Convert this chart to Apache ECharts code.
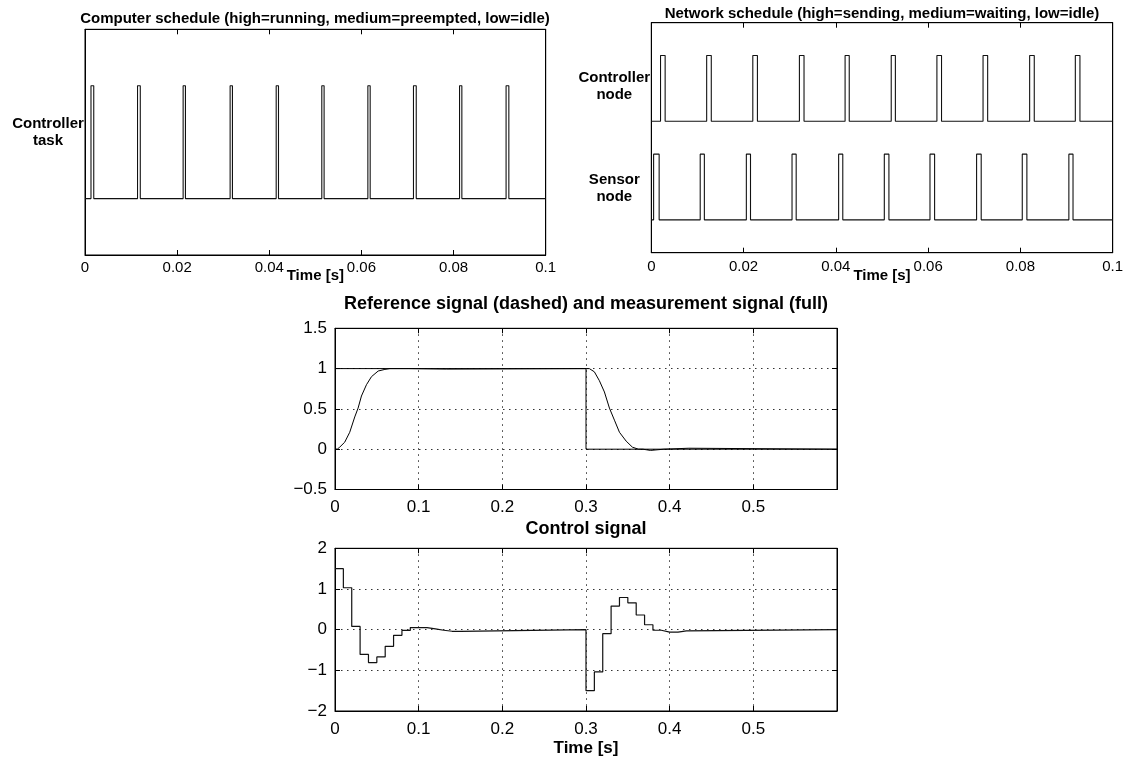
<!DOCTYPE html>
<html>
<head>
<meta charset="utf-8">
<script src="https://cdn.jsdelivr.net/npm/echarts@6/dist/echarts.min.js"></script>
<style>
  html, body { margin: 0; padding: 0; background: #fff; }
  #chart { width: 1127px; height: 764px; }
</style>
</head>
<body>
<div id="chart"></div>
<script>
// computer schedule: controller task running intervals [s]
const cpuStart = [0.0013, 0.0114, 0.0213, 0.0315, 0.0415, 0.0514, 0.0614, 0.0713, 0.0813, 0.0914];
const cpuEnd   = [0.0019, 0.0120, 0.0218, 0.0320, 0.0420, 0.0519, 0.0619, 0.0719, 0.0818, 0.0920];
// network schedule: sending intervals [s]
const ctrlNodeStart = [0.0020, 0.0120, 0.0220, 0.0321, 0.0420, 0.0520, 0.0619, 0.0719, 0.0820, 0.0919];
const ctrlNodeEnd   = [0.0030, 0.0130, 0.0230, 0.0331, 0.0429, 0.0529, 0.0629, 0.0729, 0.0830, 0.0929];
const sensorStart   = [0.0005, 0.0106, 0.0206, 0.0305, 0.0406, 0.0505, 0.0604, 0.0705, 0.0804, 0.0905];
const sensorEnd     = [0.0017, 0.0115, 0.0215, 0.0314, 0.0415, 0.0515, 0.0614, 0.0715, 0.0814, 0.0914];

// reference and measurement
const refT = [0, 0.3, 0.3, 0.6];
const refY = [1, 1, 0, 0];
const measT = [0, 0.003, 0.0056, 0.0116, 0.0176, 0.0236, 0.0276, 0.0316, 0.0376, 0.0436, 0.0516, 0.0596, 0.0656,
  0.088, 0.089, 0.133, 0.134, 0.3, 0.304, 0.310, 0.316, 0.322, 0.328, 0.334, 0.340, 0.348, 0.3555, 0.3626,
  0.368, 0.369, 0.377, 0.378, 0.393, 0.394, 0.423, 0.424, 0.6];
const measY = [0, 0.003, 0.025, 0.087, 0.21, 0.40, 0.51, 0.66, 0.80, 0.90, 0.97, 0.99, 1.0,
  1.0, 0.994, 0.994, 1.0, 1.0, 1.0, 0.96, 0.85, 0.71, 0.51, 0.36, 0.21, 0.10, 0.025, 0.0,
  0.0, -0.015, -0.015, 0, 0, 0.012, 0.012, 0, 0];

// control signal (zero order hold)
const ctrlT = [0, 0.01, 0.02, 0.03, 0.04, 0.05, 0.06, 0.07, 0.08, 0.09, 0.10, 0.11, 0.12, 0.13, 0.14, 0.15,
  0.30, 0.31, 0.32, 0.33, 0.34, 0.35, 0.36, 0.37, 0.38, 0.39, 0.40, 0.41, 0.42, 0.6];
const ctrlU = [1.5, 1.03, 0.08, -0.61, -0.81, -0.67, -0.41, -0.14, -0.02, 0.05, 0.05, 0.02, -0.015, -0.04, -0.04, 0,
  -1.5, -1.04, -0.1, 0.58, 0.79, 0.66, 0.36, 0.12, -0.015, -0.06, -0.06, -0.03, 0, 0];

const FONT = 'Liberation Sans, Arial, sans-serif';

function pulses(starts, ends, low, high, tEnd) {
  const pts = [[0, low]];
  for (let i = 0; i < starts.length; i++) {
    pts.push([starts[i], low], [starts[i], high], [ends[i], high], [ends[i], low]);
  }
  pts.push([tEnd, low]);
  return pts;
}
function zip(a, b) { return a.map((v, i) => [v, b[i]]); }
function num(v) { return String(parseFloat(v.toFixed(3))).replace('-', '\u2212'); }

const grids = [
  { left: 85, top: 29.3, width: 460.7, height: 225.7 },
  { left: 651.3, top: 22.7, width: 461.4, height: 230 },
  { left: 335, top: 328.3, width: 502, height: 161.2 },
  { left: 335, top: 548.3, width: 502, height: 162.7 }
].map(g => Object.assign(g, { show: true, borderColor: '#000', borderWidth: 1, backgroundColor: '#fff' }));

const dotted = { show: true, lineStyle: { color: '#333', type: [1.5, 4.5], width: 1 } };

function xPair(gi, max, interval, fontSize, margin, nameGap, hideMax, grid) {
  const bottom = {
    type: 'value', gridIndex: gi, min: 0, max: max, interval: interval, position: 'bottom',
    axisLine: { show: true, onZero: false, lineStyle: { color: '#000' } },
    axisTick: { show: true, inside: true, length: 5, lineStyle: { color: '#000' } },
    axisLabel: { color: '#000', fontFamily: FONT, fontSize: fontSize, margin: margin, formatter: num, showMaxLabel: !hideMax },
    splitLine: grid ? dotted : { show: false }
  };
  if (nameGap !== null) {
    Object.assign(bottom, {
      name: 'Time [s]', nameLocation: 'middle', nameGap: nameGap, nameMoveOverlap: false,
      nameTextStyle: { color: '#000', fontFamily: FONT, fontWeight: 'bold', fontSize: fontSize }
    });
  }
  const top = {
    type: 'value', gridIndex: gi, min: 0, max: max, interval: interval, position: 'top',
    axisLine: { show: true, onZero: false, lineStyle: { color: '#000' } },
    axisTick: { show: true, inside: true, length: 5, lineStyle: { color: '#000' } },
    axisLabel: { show: false }, splitLine: { show: false }
  };
  return [bottom, top];
}

function yPair(gi, min, max, interval, opts) {
  const left = {
    type: 'value', gridIndex: gi, min: min, max: max, interval: interval, position: 'left',
    axisLine: { show: true, onZero: false, lineStyle: { color: '#000' } },
    axisTick: { show: opts.ticks, inside: true, length: 5, lineStyle: { color: '#000' } },
    axisLabel: opts.label,
    splitLine: opts.grid ? dotted : { show: false }
  };
  const right = {
    type: 'value', gridIndex: gi, min: min, max: max, interval: interval, position: 'right',
    axisLine: { show: true, onZero: false, lineStyle: { color: '#000' } },
    axisTick: { show: opts.ticks, inside: true, length: 5, lineStyle: { color: '#000' } },
    axisLabel: { show: false }, splitLine: { show: false }
  };
  return [left, right];
}

const nameLabel = (values, texts) => ({
  customValues: values,
  formatter: v => texts[values.findIndex(x => Math.abs(x - v) < 1e-6)] || '',
  color: '#000', fontFamily: FONT, fontWeight: 'bold', fontSize: 15,
  align: 'center', margin: 37, lineHeight: 17
});
const numLabel = { color: '#000', fontFamily: FONT, fontSize: 17, margin: 8, formatter: num };

const xAxis = [].concat(
  xPair(0, 0.1, 0.02, 15, 5.5, 13.5, false, false),
  xPair(1, 0.1, 0.02, 15, 6.5, 16, false, false),
  xPair(2, 0.6, 0.1, 17, 9, null, true, true),
  xPair(3, 0.6, 0.1, 17, 10, 29, true, true)
);
const yAxis = [].concat(
  yPair(0, 0, 2, 1, { ticks: false, grid: false, label: nameLabel([1.09], ['Controller\ntask']) }),
  yPair(1, 0, 3.5, 0.5, { ticks: false, grid: false, label: nameLabel([2.53, 0.985], ['Controller\nnode', 'Sensor\nnode']) }),
  yPair(2, -0.5, 1.5, 0.5, { ticks: true, grid: true, label: numLabel }),
  yPair(3, -2, 2, 1, { ticks: true, grid: true, label: numLabel })
);

const line = (gi, data, extra) => Object.assign({
  type: 'line', xAxisIndex: 2 * gi, yAxisIndex: 2 * gi, data: data,
  showSymbol: false, symbol: 'none', animation: false, silent: true,
  lineStyle: { color: '#111', width: 1.1 }
}, extra || {});

const titleStyle = size => ({ color: '#000', fontFamily: FONT, fontWeight: 'bold', fontSize: size });

const chart = echarts.init(document.getElementById('chart'));
chart.setOption({
  backgroundColor: '#fff',
  animation: false,
  title: [
    { text: 'Computer schedule (high=running, medium=preempted, low=idle)', left: 315, top: 11, textAlign: 'center', padding: 0, textStyle: titleStyle(15) },
    { text: 'Network schedule (high=sending, medium=waiting, low=idle)', left: 882, top: 6.5, textAlign: 'center', padding: 0, textStyle: titleStyle(15) },
    { text: 'Reference signal (dashed) and measurement signal (full)', left: 586, top: 295, textAlign: 'center', padding: 0, textStyle: titleStyle(18) },
    { text: 'Control signal', left: 586, top: 520.5, textAlign: 'center', padding: 0, textStyle: titleStyle(18) }
  ],
  grid: grids,
  xAxis: xAxis,
  yAxis: yAxis,
  series: [
    line(0, pulses(cpuStart, cpuEnd, 0.5, 1.5, 0.1)),
    line(1, pulses(ctrlNodeStart, ctrlNodeEnd, 2, 3, 0.1)),
    line(1, pulses(sensorStart, sensorEnd, 0.5, 1.5, 0.1)),
    line(2, zip(refT, refY), { lineStyle: { color: '#000', width: 1 } }),
    line(2, zip(measT, measY), { lineStyle: { color: '#000', width: 1 } }),
    line(3, zip(ctrlT, ctrlU), { step: 'end', lineStyle: { color: '#111', width: 1.2 } })
  ]
});
</script>
</body>
</html>
